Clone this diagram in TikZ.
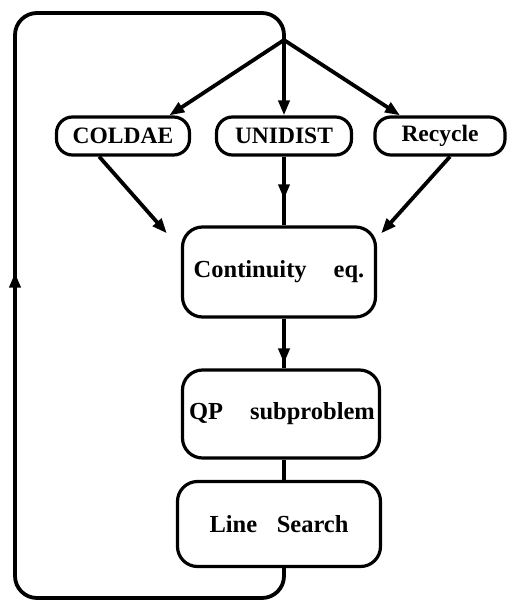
\documentclass[tikz,border=0pt]{standalone}
\usepackage{fontspec}
\setmainfont{Liberation Serif}
\usetikzlibrary{arrows.meta,decorations.markings,calc}
\begin{document}
\begin{tikzpicture}[x=1pt,y=-1pt,
  line width=3.8pt,
  pill/.style={draw,line width=3.2pt,rounded corners=16pt,minimum width=133pt,minimum height=38pt,inner sep=0pt,font=\fontsize{23.5}{27}\selectfont\bfseries},
  stepbox/.style={draw,line width=3.2pt,rounded corners=20pt,minimum width=195pt,minimum height=88pt,inner sep=0pt,font=\fontsize{24.5}{28}\selectfont\bfseries},
  tipend/.style={-{Triangle[length=15pt,width=11pt]}},
  midarrow/.style={postaction={decorate},decoration={markings,mark=at position #1 with {\arrow{Triangle[length=15pt,width=11pt]}}}}
]
\useasboundingbox (0,0) rectangle (508,604);
\node[pill] (coldae) at (123,136) {COLDAE};
\node[pill,minimum width=135pt] (unidist) at (284,136) {UNIDIST};
\node[pill,minimum width=130pt] (recycle) at (440,136) {Recycle};
\node[stepbox,minimum width=193pt,minimum height=90pt] (cont) at (279,272) {Continuity\hspace{1.1em}eq.};
\node[stepbox,minimum width=197pt] (qp) at (281,414) {\hspace{2pt}QP\hspace{1.1em}subproblem};
\node[stepbox,minimum width=203pt,minimum height=85pt] (ls) at (279,524) {Line\hspace{0.8em}Search\hspace{8pt}};
\coordinate (j) at (284,40);
\coordinate (bot) at (0,598);
\coordinate (bl) at (15,598);
\coordinate (tl) at (15,13);
\coordinate (tr) at (284,13);
% fan-out from the junction
\draw[tipend] (j) -- ($(coldae.north)!0.68!(coldae.north east)$);
\draw[tipend] (j) -- (unidist.north);
\draw[tipend] (j) -- ($(recycle.north)!0.6!(recycle.north west)$);
% into continuity
\draw[tipend] ($(coldae.south)!0.35!(coldae.south west)$) -- ($(cont.north west)+(-14,8)$);
\draw[tipend] ($(recycle.south)!0.15!(recycle.south east)$) -- ($(cont.north east)+(4,8)$);
\draw[midarrow=0.62] (unidist.south) -- (unidist.south |- cont.north);
\draw[midarrow=0.9] (cont.south -| j) -- (qp.north -| j);
\draw (qp.south -| j) -- (ls.north -| j);
% feedback loop
\draw[rounded corners=22pt,midarrow=0.53] (ls.south -| j) -- (j |- bot) -- (bl) -- (tl) -- (tr) -- (j);
\end{tikzpicture}
\end{document}
